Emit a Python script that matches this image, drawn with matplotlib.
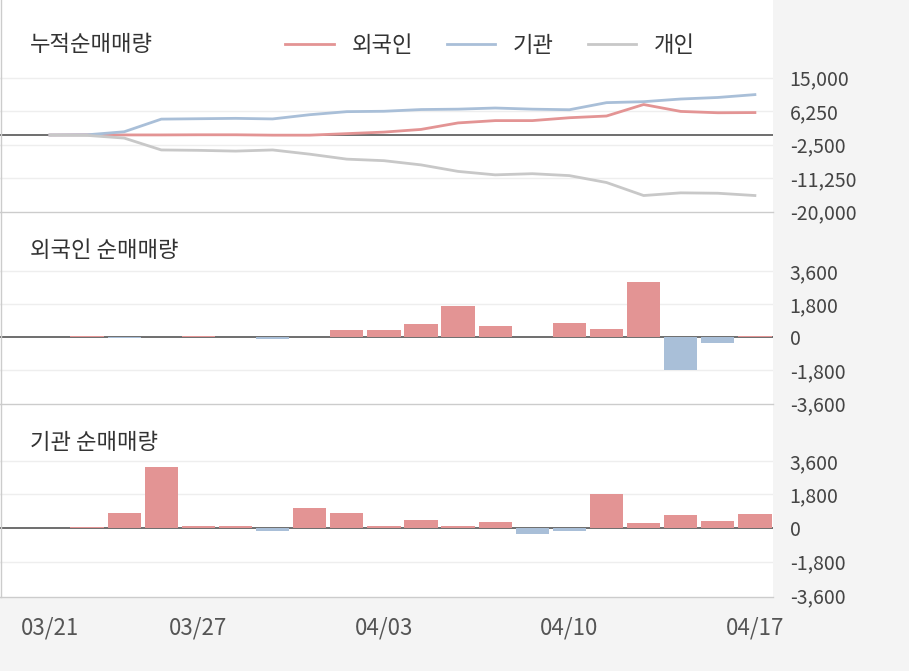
import matplotlib
matplotlib.use("Agg")
import matplotlib.pyplot as plt
from matplotlib.lines import Line2D
import numpy as np

plt.rcParams["font.family"] = "Noto Sans CJK KR"

dates = ["03/21", "03/22", "03/25", "03/26", "03/27", "03/28", "03/29", "04/01", "04/02", "04/03",
         "04/04", "04/05", "04/08", "04/09", "04/10", "04/11", "04/12", "04/15", "04/16", "04/17"]
date_ticks = ["03/21", "03/27", "04/03", "04/10", "04/17"]

foreign_net = [0, 50, -30, 0, 40, 0, -100, 0, 400, 400, 700, 1700, 600, 0, 750, 450, 3000, -1800, -350, 50]
inst_net = [0, 50, 800, 3300, 100, 100, -150, 1100, 800, 100, 450, 100, 300, -300, -150, 1850, 250, 700, 400, 750]

foreign_cum = [0, 50, 20, 20, 60, 60, -40, -40, 360, 760, 1460, 3160, 3760, 3760, 4510, 4960, 7960, 6160, 5810, 5860]
inst_cum = [0, 50, 850, 4150, 4250, 4350, 4200, 5300, 6100, 6200, 6650, 6750, 7050, 6750, 6600, 8450, 8700, 9400, 9800, 10550]
indiv_cum = [0, -100, -800, -3900, -4000, -4200, -3900, -5000, -6300, -6700, -7800, -9500, -10400, -10100, -10600, -12400, -15800, -15100, -15200, -15800]

RED = "#e39494"
BLUE = "#a9bfd8"
GRAY = "#c8c8c8"
TXT = "#444444"

fig = plt.figure(figsize=(9.09, 6.71), dpi=100)
fig.patch.set_facecolor("#f4f4f4")
H = 671.0
W = 909.0
x = np.arange(len(dates))

def make_ax(top, bottom):
    ax = fig.add_axes([0, 1 - bottom / H, 773 / W, (bottom - top) / H])
    ax.set_facecolor("white")
    ax.set_xlim(-50 / 37.1, (773 - 50) / 37.1)
    for s in ax.spines.values():
        s.set_visible(False)
    ax.set_xticks([])
    ax.yaxis.tick_right()
    ax.tick_params(axis="y", length=0, labelsize=14, labelcolor=TXT, pad=12)
    return ax

# panel 1
ax1 = make_ax(0, 212)
ax1.set_ylim(-20100, 35250)
t1 = [15000, 6250, -2500, -11250, -20000]
ax1.set_yticks(t1, [f"{v:,}" for v in t1])
for v in t1[:-1]:
    ax1.axhline(v, color="#eeeeee", lw=1, zorder=0)
ax1.axhline(0, color="#555555", lw=1.2, zorder=1)
ax1.plot(x, foreign_cum, color=RED, lw=2, label="외국인")
ax1.plot(x, inst_cum, color=BLUE, lw=2, label="기관")
ax1.plot(x, indiv_cum, color=GRAY, lw=2, label="개인")
ax1.text(-20 / 37.1, 35250 - 45 * 261, "누적순매매량", fontsize=16, color="#333333", va="center")
ax1.legend(loc="center left", bbox_to_anchor=(265 / 773, 1 - 45 / 212), ncol=3, frameon=False,
           fontsize=16, handlelength=2.2, columnspacing=1.5, labelcolor="#333333")

def bar_panel(top, bottom, vals, lo, hi, title):
    ax = make_ax(top, bottom)
    ax.set_ylim(lo, hi)
    t = [3600, 1800, 0, -1800, -3600]
    ax.set_yticks(t, [f"{v:,}" for v in t])
    for v in [3600, 1800, -1800]:
        ax.axhline(v, color="#eeeeee", lw=1, zorder=0)
    ax.axhline(0, color="#555555", lw=1.2, zorder=1)
    cols = [RED if v >= 0 else BLUE for v in vals]
    ax.bar(x, vals, width=0.9, color=cols, zorder=2)
    ax.text(-20 / 37.1, hi - (hi - lo) * 0.2, title, fontsize=16, color="#333333", va="center")
    return ax

bar_panel(212, 404, foreign_net, -3650, 6818, "외국인 순매매량")
bar_panel(404, 597, inst_net, -3705, 6660, "기관 순매매량")

# panel separators
for yy in [212, 404, 597]:
    fig.add_artist(Line2D([0, 773 / W], [1 - yy / H] * 2, color="#cccccc", lw=1))
fig.add_artist(Line2D([0.5 / W] * 2, [1 - 597 / H, 1], color="#cccccc", lw=1))

# date labels on bottom strip
for d in date_ticks:
    i = dates.index(d)
    fig.text((50 + i * 37.1) / W, 1 - 628 / H, d, fontsize=16, color="#555555", ha="center", va="center")

fig.savefig("out.png", dpi=100, facecolor=fig.get_facecolor())
